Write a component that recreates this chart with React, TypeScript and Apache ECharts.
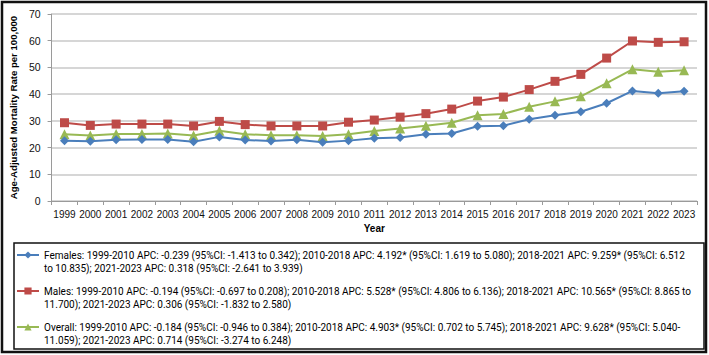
import React, { useEffect, useRef } from "react";
import * as echarts from "echarts";

const years = ["1999","2000","2001","2002","2003","2004","2005","2006","2007","2008","2009","2010","2011","2012","2013","2014","2015","2016","2017","2018","2019","2020","2021","2022","2023"];
const females = [22.6,22.4,22.9,23.0,23.0,22.2,24.0,22.8,22.5,22.9,22.0,22.6,23.5,23.8,25.0,25.3,28.0,28.2,30.6,32.1,33.4,36.6,41.2,40.3,41.1];
const males = [29.3,28.3,28.8,28.8,28.8,28.1,29.8,28.6,28.1,28.1,28.1,29.5,30.3,31.4,32.7,34.4,37.4,38.9,41.7,44.8,47.4,53.5,59.9,59.4,59.6];
const overall = [25.0,24.5,25.1,25.1,25.3,24.5,26.3,25.0,24.6,24.6,24.3,25.0,26.2,27.1,28.2,29.3,32.1,32.6,35.3,37.3,39.2,44.1,49.3,48.4,48.9];
const seriesNames = ["Females", "Males", "Overall"];
const legendLines: Record<string, string[]> = {
  Females: [
    "Females: 1999-2010 APC: -0.239 (95%CI: -1.413 to 0.342); 2010-2018 APC: 4.192* (95%CI: 1.619 to 5.080); 2018-2021 APC: 9.259* (95%CI: 6.512",
    "to 10.835); 2021-2023 APC: 0.318 (95%CI: -2.641 to 3.939)",
  ],
  Males: [
    "Males: 1999-2010 APC: -0.194 (95%CI: -0.697 to 0.208); 2010-2018 APC: 5.528* (95%CI: 4.806 to 6.136); 2018-2021 APC: 10.565* (95%CI: 8.865 to",
    "11.700); 2021-2023 APC: 0.306 (95%CI: -1.832 to 2.580)",
  ],
  Overall: [
    "Overall: 1999-2010 APC: -0.184 (95%CI: -0.946 to 0.384); 2010-2018 APC: 4.903* (95%CI: 0.702 to 5.745); 2018-2021 APC: 9.628* (95%CI: 5.040-",
    "11.059); 2021-2023 APC: 0.714 (95%CI: -3.274 to 6.248)",
  ],
};
const yTicks = { min: 0, max: 70, interval: 10 };

const colors = ["#4a7ebb", "#be4b48", "#98b954"];
const symbols = ["diamond", "rect", "triangle"];
const symbolSizes = [9, 9, 10];

export default function App() {
  const ref = useRef<HTMLDivElement>(null);
  useEffect(() => {
    if (!ref.current) return;
    const chart = echarts.init(ref.current, null, { renderer: "svg" });
    const dataSets = [females, males, overall];
    const legendTops = [235.5, 271.5, 307.5];
    chart.setOption({
      animation: false,
      backgroundColor: "#ffffff",
      grid: { left: 47, right: 12, top: 14, bottom: 154, containLabel: false },
      xAxis: {
        type: "category",
        data: years,
        boundaryGap: true,
        name: "Year",
        nameLocation: "middle",
        nameGap: 15,
        nameTextStyle: { fontFamily: "Liberation Sans", fontWeight: "bold", fontSize: 10, color: "#000", verticalAlign: "top" },
        axisLine: { lineStyle: { color: "#9a9a9a", width: 1 } },
        axisTick: { show: true, length: 4, lineStyle: { color: "#9a9a9a" } },
        axisLabel: { fontFamily: "Liberation Sans", fontSize: 10, color: "#111", margin: 8, interval: 0 },
        splitLine: { show: false },
      },
      yAxis: {
        type: "value",
        min: yTicks.min,
        max: yTicks.max,
        interval: yTicks.interval,
        name: "Age-Adjusted Mortality Rate per 100,000",
        nameLocation: "middle",
        nameGap: 26,
        nameTextStyle: { fontFamily: "Liberation Sans", fontWeight: "bold", fontSize: 9.6, color: "#000" },
        axisLine: { show: true, lineStyle: { color: "#9a9a9a", width: 1 } },
        axisTick: { show: true, length: 4, lineStyle: { color: "#9a9a9a" } },
        axisLabel: { fontFamily: "Liberation Sans", fontSize: 10.5, color: "#111", margin: 11 },
        splitLine: { show: true, lineStyle: { color: "#c9c9c9", width: 1.5 } },
      },
      legend: seriesNames.map((n, i) => ({
        data: [n],
        orient: "vertical",
        left: 16,
        top: legendTops[i],
        itemWidth: 22,
        itemHeight: 9,
        itemGap: 0,
        padding: 0,
        selectedMode: false,
        textStyle: { fontFamily: "Roboto", fontSize: 10, color: "#000", lineHeight: 13 },
        formatter: (name: string) => "\n" + legendLines[name].join("\n"),
      })),
      series: seriesNames.map((n, i) => ({
        name: n,
        type: "line",
        data: dataSets[i],
        symbol: symbols[i],
        symbolSize: symbolSizes[i],
        showAllSymbol: true,
        lineStyle: { color: colors[i], width: 2 },
        itemStyle: { color: colors[i] },
        z: 3 - i,
      })),
      graphic: [
        { type: "rect", shape: { x: 2, y: 2, width: 704, height: 350 }, style: { fill: "none", stroke: "#111", lineWidth: 2.5 }, silent: true },
        { type: "rect", shape: { x: 14, y: 243, width: 690, height: 106 }, style: { fill: "none", stroke: "#111", lineWidth: 1.5 }, silent: true },
      ],
    });
    return () => chart.dispose();
  }, []);
  return <div ref={ref} style={{ position: "fixed", left: 0, top: 0, width: 709, height: 355 }} />;
}
